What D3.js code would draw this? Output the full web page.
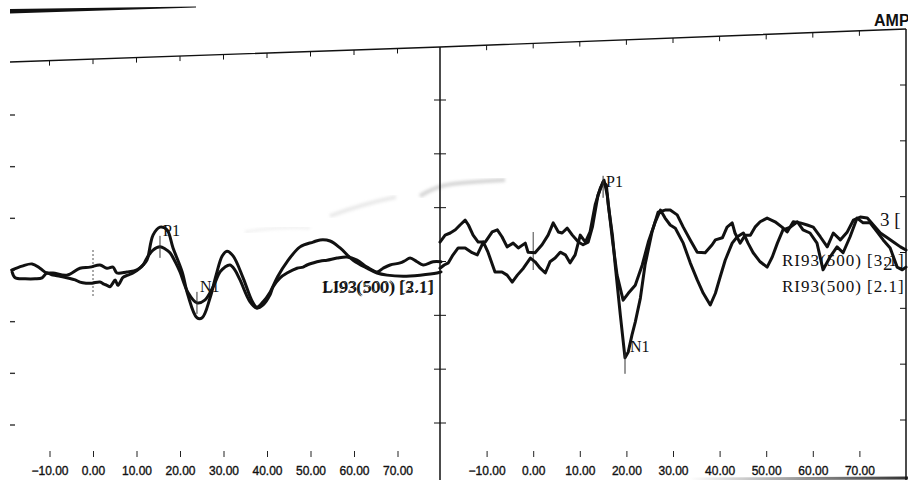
<!DOCTYPE html>
<html>
<head>
<meta charset="utf-8">
<script src="https://cdn.jsdelivr.net/npm/d3@7"></script>
<style>
  body { margin: 0; background: #fff; }
  svg { display: block; }
</style>
</head>
<body>
<script>
// ---- data (time in ms, amplitude in uV) ----
const tickVals = [-10, 0, 10, 20, 30, 40, 50, 60, 70];
const ampTicks = [-30, -20, -10, 0, 10, 20, 30];

// left ear, trace 1 (larger P1/N1)
const leftT1 = [-18.6,-16.3,-14.0,-12.2,-10.6,-9.2,-6.0,-3.0,-0.7,1.6,3.2,4.6,5.5,7.8,10.1,11.5,12.4,13.8,15.4,17.0,
  18.4,20.5,21.8,23.9,25.1,26.9,28.3,29.7,30.8,32.2,34.5,36.6,37.7,39.1,40.7,42.5,44.6,47.6,50.6,52.2,
  54.5,56.8,59.8,63.0,65.3,67.6,71.3,75.2,79.1,80.0];
const leftA1 = [-0.9,-0.2,0.2,-0.6,-1.5,-1.5,-1.9,-0.6,-0.4,0,-0.6,-0.4,-1.5,-1.3,-0.9,0,0.9,5.6,7.1,6.6,
  3.2,-1.3,-5.6,-9.9,-9.9,-6.2,-1.9,1.7,2.6,1.7,-2.4,-6.8,-7.9,-6.9,-5.1,-2.1,0.6,3.4,4.3,4.7,
  4.5,3.2,0.9,-0.6,-1.5,-1.9,-2.1,-1.9,-1.5,-1.3];

// left ear, trace 2
const leftT2 = [-18.6,-17.9,-15.6,-13.3,-11.7,-10.6,-9.2,-7.6,-6.0,-4.1,-3.0,-1.6,-0.2,1.6,2.5,3.2,3.9,4.4,5.1,5.7,
  6.4,6.9,8.0,9.2,10.8,11.5,12.4,13.8,15.4,16.6,17.7,18.9,20.0,21.8,23.9,25.7,27.6,29.2,30.3,31.5,
  32.6,33.8,36.1,37.7,39.1,40.7,41.4,43.0,44.6,46.9,48.3,49.2,51.5,52.6,53.8,56.1,58.4,60.7,63.0,65.3,
  66.7,68.3,70.6,71.7,72.9,74.5,75.9,78.2,80.0];
const leftA2 = [-1.3,-2.4,-2.6,-2.6,-2.4,-1.5,-1.9,-2.1,-2.4,-2.8,-3.2,-3.4,-3.4,-3.2,-3.6,-3.8,-4.1,-3.6,-2.8,-3.8,
  -3.0,-2.3,-1.9,-1.5,-0.6,0,1.3,2.8,3.4,3.0,2.3,0.6,-1.3,-5.1,-7.1,-6.6,-4.1,-1.3,-0.4,0,
  -0.9,-2.8,-6.9,-8.1,-7.5,-5.6,-4.1,-2.4,-1.5,-0.6,-0.4,0,0.6,0.8,0.9,1.3,1.5,0.9,-0.4,-1.3,
  -0.6,0,0.4,0.8,1.3,0.6,0,0.6,0.6];

// right ear, trace 1 (deep N1)
const rightT1 = [-20.0,-18.9,-17.8,-16.7,-15.7,-14.6,-13.9,-12.9,-11.8,-10.3,-8.8,-7.7,-6.7,-5.6,-4.3,-3.2,-1.7,-1.1,0.4,1.9,
  3.2,4.3,5.4,6.2,7.3,8.4,9.7,10.7,11.8,12.7,13.9,15.0,15.7,16.1,17.0,17.6,18.7,19.7,20.4,21.2,
  21.9,23.0,24.0,25.5,26.8,28.3,29.4,30.9,32.2,33.7,35.2,36.9,38.4,39.1,40.6,41.6,42.7,43.3,44.4,45.5,
  46.6,47.6,48.7,50.2,51.9,53.4,54.5,55.8,57.3,58.8,60.1,61.6,63.1,64.4,65.9,67.4,68.7,70.2,71.7,73.0,
  74.5,76.0,77.3,78.8,80.0];
const rightA1 = [4.3,5.6,6.0,6.6,7.5,8.4,7.5,5.6,4.3,4.3,6.2,6.6,5.3,3.4,4.1,3.2,4.1,2.4,2.3,3.8,
  5.6,7.9,6.2,6.0,6.9,5.6,4.3,3.8,4.3,7.1,13.1,15.6,15.0,11.3,5.6,0,-9.4,-17.4,-16.3,-13.1,
  -10.7,-6.2,0,6.2,9.9,10.3,10.3,9.4,7.1,4.7,2.4,2.3,3.8,4.7,5.1,7.1,7.9,6.0,4.1,5.6,
  5.6,7.1,8.1,8.8,8.1,7.1,6.2,8.1,7.9,7.5,7.1,5.3,3.4,6.0,4.7,6.2,8.4,9.0,8.8,7.5,
  6.0,5.1,4.3,3.4,2.8];

// right ear, trace 2
const rightT2 = [-20.0,-19.1,-18.2,-17.2,-16.1,-14.6,-13.1,-12.0,-10.7,-9.7,-8.2,-6.7,-5.6,-4.5,-3.4,-2.1,-0.6,0.4,1.5,2.6,
  3.6,4.7,5.8,6.9,7.9,9.0,10.1,11.2,12.2,13.3,14.4,15.2,15.9,17.0,18.0,19.3,20.4,21.9,23.4,24.7,
  26.2,27.3,28.3,29.4,30.5,32.2,33.7,35.2,36.5,38.0,39.1,40.1,41.2,42.7,43.8,45.1,46.1,47.2,48.7,50.2,
  51.3,52.4,53.6,55.2,56.7,57.9,59.4,60.9,62.2,63.7,65.2,66.5,68.0,69.5,70.8,72.3,73.8,75.1,76.6,78.1,
  79.2,80.0];
const rightA2 = [-0.6,0,0.4,1.9,3.2,3.2,2.3,1.9,4.3,2.4,-1.3,-1.3,-1.9,-3.2,-1.9,-0.6,1.3,0.6,-0.6,-1.5,
  0.6,1.3,2.4,1.9,0.4,1.9,5.6,4.3,6.2,11.3,14.4,15.9,13.1,4.7,-1.9,-6.6,-5.3,-3.8,0,4.3,
  8.1,10.3,8.8,7.5,6.9,4.1,0.4,-2.8,-5.3,-7.5,-5.3,-2.3,0.9,4.1,5.3,6.0,4.1,2.3,0.6,-0.4,
  1.5,4.1,6.6,7.1,8.1,6.6,6.0,4.1,-0.9,1.5,3.4,2.3,5.3,8.8,7.9,7.9,6.2,4.7,3.2,-0.4,
  -0.9,-0.4];

// peak cursors
const peakNames = ["P1", "N1"];
const leftPeakT = [15.4, 23.9], leftPeakA = [3.4, -7.1];
const rightPeakT = [15.0, 19.7], rightPeakA = [15.6, -17.4];

const leftLabels = ["LI93(500) [3.1]", "LI93(500) [2.1]"];
const rightLabels = ["RI93(500) [3.1]", "RI93(500) [2.1]"];
const channelMarks = ["3 [", "2"];

// ---- drawing ----
const W = 908, H = 480;
const svg = d3.select("body").append("svg").attr("width", W).attr("height", H);

const xLeft = d3.scaleLinear().domain([-20, 80]).range([6, 441]);
const xRight = d3.scaleLinear().domain([-20, 80]).range([440, 906]);
const yAmp = d3.scaleLinear().domain([-30, 30]).range([425, 105]);

// the scan is a bit skewed, so each vertical axis gets its own range
const yEdgeL = d3.scaleLinear().domain([-30, 30]).range([425, 115]);
const yCenter = d3.scaleLinear().domain([-30, 30]).range([423, 100]);
const yEdgeR = d3.scaleLinear().domain([-30, 30]).range([420, 85]);
const topLineY = d3.scaleLinear().domain([10, 440, 906]).range([62, 47, 29]);

const ink = "#111";

// faint scanner smudges
const defs = svg.append("defs");
defs.append("filter").attr("id", "blur").append("feGaussianBlur").attr("stdDeviation", 1.8);
const grad = defs.append("linearGradient").attr("id", "edge");
grad.append("stop").attr("offset", "0%").attr("stop-color", "#fff");
grad.append("stop").attr("offset", "100%").attr("stop-color", "#333");

svg.append("path").attr("d", "M420,196 Q436,186 452,184 T505,180")
  .attr("fill", "none").attr("stroke", "#999").attr("stroke-width", 4)
  .attr("opacity", 0.4).attr("filter", "url(#blur)");
svg.append("path").attr("d", "M330,216 Q362,204 396,197")
  .attr("fill", "none").attr("stroke", "#aaa").attr("stroke-width", 4)
  .attr("opacity", 0.25).attr("filter", "url(#blur)");
svg.append("path").attr("d", "M245,232 Q280,226 310,228")
  .attr("fill", "none").attr("stroke", "#bbb").attr("stroke-width", 3)
  .attr("opacity", 0.2).attr("filter", "url(#blur)");
svg.append("line").attr("x1", 690).attr("x2", W).attr("y1", 479).attr("y2", 478)
  .attr("stroke", "url(#edge)").attr("stroke-width", 3);

// short stroke at the top left
svg.append("path").attr("d", "M10,9 L196,6.5 L196,7.5 L10,13.5 Z").attr("fill", ink);

// AMP header, cut by the page edge
svg.append("text").attr("x", 874).attr("y", 26)
  .attr("font-family", "Liberation Sans, Arial, sans-serif").attr("font-weight", "bold")
  .attr("font-size", 16).attr("fill", ink).text("AMP");

// skewed top border with ticks
svg.append("path")
  .attr("d", d3.line()([10, 440, 906].map(x => [x, topLineY(x)])))
  .attr("fill", "none").attr("stroke", ink).attr("stroke-width", 1.4);
[xLeft, xRight].forEach(xs => {
  svg.append("g").selectAll("line").data(tickVals).join("line")
    .attr("x1", d => xs(d)).attr("x2", d => xs(d))
    .attr("y1", d => topLineY(xs(d))).attr("y2", d => topLineY(xs(d)) + 5)
    .attr("stroke", ink).attr("stroke-width", 1);
});

// centre divider and right border
svg.append("line").attr("x1", 440).attr("x2", 440).attr("y1", topLineY(440)).attr("y2", H)
  .attr("stroke", ink).attr("stroke-width", 1.5);
svg.append("line").attr("x1", 906).attr("x2", 906).attr("y1", topLineY(906)).attr("y2", H)
  .attr("stroke", ink).attr("stroke-width", 1.5);

svg.append("g").selectAll("line").data(ampTicks).join("line")
  .attr("x1", 434).attr("x2", 446).attr("y1", d => yCenter(d)).attr("y2", d => yCenter(d))
  .attr("stroke", ink).attr("stroke-width", 1);
svg.append("g").selectAll("line").data(ampTicks).join("line")
  .attr("x1", 10).attr("x2", 15).attr("y1", d => yEdgeL(d)).attr("y2", d => yEdgeL(d))
  .attr("stroke", "#333").attr("stroke-width", 1.4);
svg.append("g").selectAll("line").data(ampTicks).join("line")
  .attr("x1", 900).attr("x2", 906).attr("y1", d => yEdgeR(d)).attr("y2", d => yEdgeR(d))
  .attr("stroke", ink).attr("stroke-width", 1);

// bottom time axes
[xLeft, xRight].forEach(xs => {
  const ax = svg.append("g").attr("transform", "translate(0,451)")
    .call(d3.axisBottom(xs).tickValues(tickVals).tickFormat(d3.format(".2f"))
      .tickSize(6).tickPadding(9));
  ax.select(".domain").remove();
  ax.selectAll(".tick line").attr("stroke", "#222").attr("stroke-width", 1);
  ax.selectAll("text").attr("font-family", "Liberation Sans, Arial, sans-serif")
    .attr("font-size", 12).attr("fill", ink)
    .attr("stroke", ink).attr("stroke-width", 0.35);
});

// zero-time cursors
svg.append("line").attr("x1", xLeft(0)).attr("x2", xLeft(0)).attr("y1", 250).attr("y2", 298)
  .attr("stroke", "#555").attr("stroke-width", 1).attr("stroke-dasharray", "2,2");
svg.append("line").attr("x1", xRight(0)).attr("x2", xRight(0)).attr("y1", 232).attr("y2", 270)
  .attr("stroke", "#444").attr("stroke-width", 1);

// waveforms
function trace(times, amps, xs, curve) {
  const pts = times.map((t, i) => [xs(t), yAmp(amps[i])]);
  svg.append("path").attr("d", d3.line().curve(curve)(pts))
    .attr("fill", "none").attr("stroke", ink).attr("stroke-width", 3)
    .attr("stroke-linejoin", "round").attr("stroke-linecap", "round");
}
trace(leftT1, leftA1, xLeft, d3.curveCatmullRom.alpha(0.5));
trace(leftT2, leftA2, xLeft, d3.curveCatmullRom.alpha(0.5));
trace(rightT1, rightA1, xRight, d3.curveLinear);
trace(rightT2, rightA2, xRight, d3.curveLinear);

// peak cursors and names
const serif = "Liberation Serif, Times New Roman, serif";
peakNames.forEach((name, i) => {
  const lx = xLeft(leftPeakT[i]), ly = yAmp(leftPeakA[i]);
  svg.append("line").attr("x1", lx).attr("x2", lx).attr("y1", ly - 11).attr("y2", ly + 11)
    .attr("stroke", "#333").attr("stroke-width", 1);
  svg.append("text").attr("x", lx + 3).attr("y", ly - 11)
    .attr("font-family", serif).attr("font-size", 16).attr("fill", ink).text(name);

  const rx = xRight(rightPeakT[i]), ry = yAmp(rightPeakA[i]);
  svg.append("line").attr("x1", rx).attr("x2", rx).attr("y1", ry - 6).attr("y2", ry + 16)
    .attr("stroke", "#333").attr("stroke-width", 1);
  svg.append("text").attr("x", rx + (i === 0 ? 3 : 5)).attr("y", ry + (i === 0 ? 5 : -6))
    .attr("font-family", serif).attr("font-size", 16).attr("fill", ink).text(name);
});

// trace labels (left pair is overprinted)
leftLabels.forEach((s, i) => {
  svg.append("text").attr("x", 322 + i).attr("y", 293 - i)
    .attr("font-family", serif).attr("font-size", 17).attr("letter-spacing", 0.3)
    .attr("fill", ink).text(s);
});
rightLabels.forEach((s, i) => {
  svg.append("text").attr("x", 782).attr("y", 266 + i * 26)
    .attr("font-family", serif).attr("font-size", 17).attr("letter-spacing", 1)
    .attr("fill", ink).text(s);
});
channelMarks.forEach((s, i) => {
  svg.append("text").attr("x", 880 + i * 3).attr("y", 226 + i * 44)
    .attr("font-family", serif).attr("font-size", 19).attr("fill", ink).text(s);
});
</script>
</body>
</html>
